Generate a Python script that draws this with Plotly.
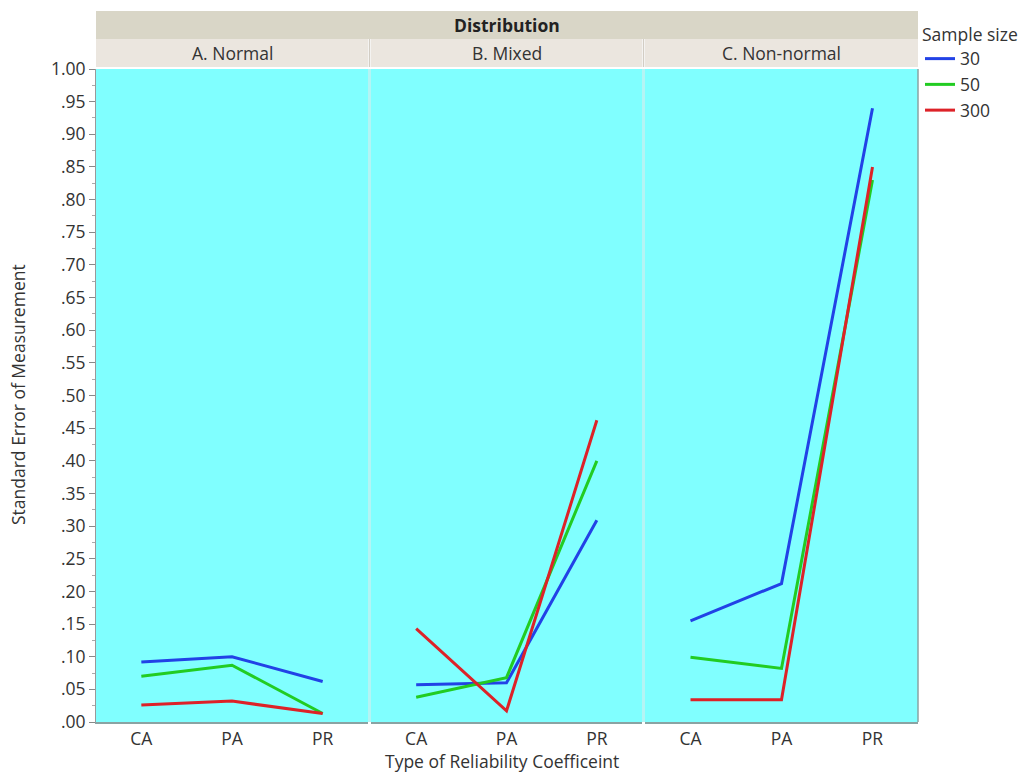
import plotly.graph_objects as go

# Categories and panels
coefficients = ["CA", "PA", "PR"]
distributions = ["A. Normal", "B. Mixed", "C. Non-normal"]
sample_sizes = ["30", "50", "300"]

# Standard error of measurement per distribution panel, per sample size
sem_normal = {
    "30": [0.092, 0.100, 0.062],
    "50": [0.070, 0.087, 0.013],
    "300": [0.026, 0.032, 0.013],
}
sem_mixed = {
    "30": [0.057, 0.060, 0.309],
    "50": [0.038, 0.068, 0.400],
    "300": [0.143, 0.017, 0.462],
}
sem_nonnormal = {
    "30": [0.155, 0.212, 0.940],
    "50": [0.099, 0.082, 0.830],
    "300": [0.034, 0.034, 0.850],
}
panel_data = [sem_normal, sem_mixed, sem_nonnormal]

y_ticks = [i * 0.05 for i in range(21)]
y_tick_labels = ["." + f"{int(round(v * 100)):02d}" if v < 1 else "1.00" for v in y_ticks]

line_colors = {"30": "#2242e6", "50": "#22cc22", "300": "#dd2228"}

W, H = 1023, 772
FONT = "Open Sans"
FS = 17.5
TXT = "#333333"

def px_x(p):
    return p / W

def px_y(p):
    return 1 - p / H

panel_px = [(96, 368), (371, 642), (645, 918)]
plot_top, plot_bottom = 69, 722

fig = go.Figure()

for i, (data, (x0, x1)) in enumerate(zip(panel_data, panel_px)):
    ax = "x" if i == 0 else f"x{i + 1}"
    for s in sample_sizes:
        fig.add_trace(go.Scatter(
            x=coefficients, y=data[s], mode="lines",
            line=dict(color=line_colors[s], width=3),
            name=s, legendgroup=s, showlegend=(i == 0),
            xaxis=ax, yaxis="y",
        ))
    key = "xaxis" if i == 0 else f"xaxis{i + 1}"
    fig.layout[key] = dict(
        domain=[px_x(x0), px_x(x1)], anchor="y",
        type="category", categoryorder="array", categoryarray=coefficients,
        range=[-0.5, 2.5], showgrid=False, zeroline=False,
        showline=True, linecolor="#8aa3a3", linewidth=1.5,
        ticks="", ticklabelstandoff=0,
        tickfont=dict(family=FONT, size=FS, color=TXT),
        automargin=False, fixedrange=True,
    )

fig.update_layout(
    yaxis=dict(
        domain=[px_y(plot_bottom), px_y(plot_top)], range=[0, 1.0],
        tickvals=y_ticks, ticktext=y_tick_labels,
        ticks="outside", ticklen=6, tickcolor="#888888",
        minor=dict(ticks="outside", ticklen=3, tickcolor="#aaaaaa", dtick=0.025),
        showgrid=False, zeroline=False, showline=True,
        linecolor="#999999", linewidth=1,
        tickfont=dict(family=FONT, size=FS, color=TXT),
        anchor="x", automargin=False, fixedrange=True,
    ),
    width=W, height=H,
    margin=dict(l=0, r=0, t=0, b=0, autoexpand=False),
    paper_bgcolor="white",
    plot_bgcolor="#80ffff",
    showlegend=True,
    legend=dict(
        title=dict(text="Sample size", font=dict(family=FONT, size=FS, color=TXT)),
        x=px_x(920), y=px_y(18), xanchor="left", yanchor="top",
        font=dict(family=FONT, size=FS, color=TXT),
        itemwidth=30, bgcolor="rgba(0,0,0,0)", tracegroupgap=0,
    ),
)

shapes = []
annotations = []

# Header strip spanning all panels
shapes.append(dict(type="rect", xref="paper", yref="paper",
                   x0=px_x(96), x1=px_x(918), y0=px_y(39), y1=px_y(11),
                   fillcolor="#d9d6c7", line=dict(width=0), layer="below"))
annotations.append(dict(text="<b>Distribution</b>", xref="paper", yref="paper",
                        x=px_x(507), y=px_y(25), showarrow=False,
                        xanchor="center", yanchor="middle",
                        font=dict(family=FONT, size=FS, color="#222222")))

for name, (x0, x1) in zip(distributions, panel_px):
    shapes.append(dict(type="rect", xref="paper", yref="paper",
                       x0=px_x(x0), x1=px_x(x1), y0=px_y(67), y1=px_y(39),
                       fillcolor="#ebe6df", line=dict(width=0), layer="below"))
    annotations.append(dict(text=name, xref="paper", yref="paper",
                            x=px_x((x0 + x1) / 2), y=px_y(53), showarrow=False,
                            xanchor="center", yanchor="middle",
                            font=dict(family=FONT, size=FS, color=TXT)))

# Pale separators between panels
for xs in (369.5, 643.5):
    shapes.append(dict(type="rect", xref="paper", yref="paper",
                       x0=px_x(xs - 1.5), x1=px_x(xs + 1.5),
                       y0=px_y(plot_bottom), y1=px_y(plot_top),
                       fillcolor="#b4f4f4", line=dict(width=0), layer="above"))
    shapes.append(dict(type="line", xref="paper", yref="paper",
                       x0=px_x(xs), x1=px_x(xs),
                       y0=px_y(67), y1=px_y(39),
                       line=dict(color="#d2cdc4", width=1.5), layer="above"))

# Right edge border of the plot region
shapes.append(dict(type="line", xref="paper", yref="paper",
                   x0=px_x(918), x1=px_x(918), y0=px_y(plot_bottom), y1=px_y(plot_top),
                   line=dict(color="#8aa3a3", width=1.5)))

annotations.append(dict(text="Standard Error of Measurement", xref="paper", yref="paper",
                        x=px_x(18), y=px_y(395), textangle=-90, showarrow=False,
                        xanchor="center", yanchor="middle",
                        font=dict(family=FONT, size=FS, color=TXT)))
annotations.append(dict(text="Type of Reliability Coefficeint", xref="paper", yref="paper",
                        x=px_x(502), y=px_y(761), showarrow=False,
                        xanchor="center", yanchor="middle",
                        font=dict(family=FONT, size=FS, color=TXT)))

fig.update_layout(shapes=shapes, annotations=annotations)

fig.write_html("out.html")
